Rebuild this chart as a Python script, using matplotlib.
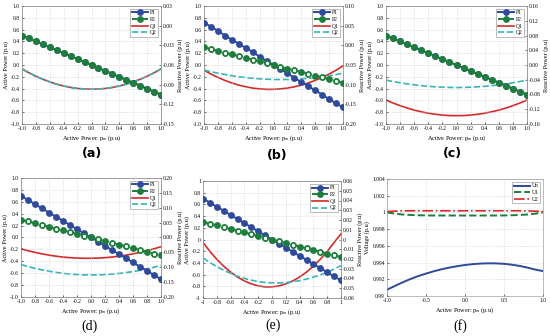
import matplotlib
matplotlib.use("Agg")
import matplotlib.pyplot as plt
from matplotlib.ticker import FormatStrFormatter

plt.rcParams['font.family'] = ['Liberation Serif', 'DejaVu Serif']
plt.rcParams['mathtext.fontset'] = 'stix'

# x axis: active power p_m (p.u)
x = [-1.0, -0.9, -0.8, -0.7, -0.6, -0.5, -0.4, -0.3, -0.2, -0.1, 0.0,
     0.1, 0.2, 0.3, 0.4, 0.5, 0.6, 0.7, 0.8, 0.9, 1.0]

# active power of the two converters
p_half = [0.50, 0.45, 0.40, 0.35, 0.30, 0.25, 0.20, 0.15, 0.10, 0.05, 0.00,
          -0.05, -0.10, -0.15, -0.20, -0.25, -0.30, -0.35, -0.40, -0.45, -0.50]
p1_b = [0.72, 0.65, 0.58, 0.50, 0.43, 0.36, 0.29, 0.22, 0.14, 0.07, 0.00,
        -0.07, -0.14, -0.22, -0.29, -0.36, -0.43, -0.50, -0.58, -0.65, -0.72]
p2_b = [0.30, 0.27, 0.24, 0.21, 0.18, 0.15, 0.12, 0.09, 0.06, 0.03, 0.00,
        -0.03, -0.06, -0.09, -0.12, -0.15, -0.18, -0.21, -0.24, -0.27, -0.30]
p1_d = [0.70, 0.63, 0.56, 0.49, 0.42, 0.35, 0.28, 0.21, 0.14, 0.07, 0.00,
        -0.07, -0.14, -0.21, -0.28, -0.35, -0.42, -0.49, -0.56, -0.63, -0.70]
p2_d = p2_b

# reactive power (right axis)
q_a = [-0.0660, -0.0719, -0.0772, -0.0818, -0.0858, -0.0893, -0.0920, -0.0942, -0.0958, -0.0967, -0.0970,
       -0.0967, -0.0958, -0.0942, -0.0920, -0.0893, -0.0858, -0.0818, -0.0772, -0.0719, -0.0660]
q1_b = [-0.0633, -0.0730, -0.0816, -0.0892, -0.0957, -0.1011, -0.1054, -0.1086, -0.1108, -0.1119, -0.1119,
        -0.1108, -0.1086, -0.1054, -0.1011, -0.0957, -0.0892, -0.0816, -0.0730, -0.0633, -0.0525]
q2_b = [-0.0628, -0.0670, -0.0708, -0.0742, -0.0772, -0.0798, -0.0820, -0.0838, -0.0852, -0.0862, -0.0868,
        -0.0870, -0.0868, -0.0862, -0.0852, -0.0838, -0.0820, -0.0798, -0.0772, -0.0742, -0.0708]
q1_c = [-0.0950, -0.1031, -0.1103, -0.1167, -0.1222, -0.1269, -0.1307, -0.1337, -0.1358, -0.1371, -0.1375,
        -0.1371, -0.1358, -0.1337, -0.1307, -0.1269, -0.1222, -0.1167, -0.1103, -0.1031, -0.0950]
q2_c = [-0.0410, -0.0448, -0.0482, -0.0512, -0.0538, -0.0560, -0.0578, -0.0592, -0.0602, -0.0608, -0.0610,
        -0.0608, -0.0602, -0.0592, -0.0578, -0.0560, -0.0538, -0.0512, -0.0482, -0.0448, -0.0410]
q1_d = [-0.0380, -0.0444, -0.0500, -0.0550, -0.0593, -0.0628, -0.0657, -0.0678, -0.0692, -0.0699, -0.0699,
        -0.0692, -0.0678, -0.0657, -0.0628, -0.0593, -0.0550, -0.0500, -0.0444, -0.0380, -0.0309]
q2_d = [-0.0910, -0.0977, -0.1036, -0.1089, -0.1134, -0.1172, -0.1204, -0.1228, -0.1246, -0.1257, -0.1260,
        -0.1257, -0.1247, -0.1231, -0.1209, -0.1180, -0.1145, -0.1103, -0.1055, -0.1001, -0.0940]
q1_e = [-0.0031, -0.0122, -0.0203, -0.0274, -0.0334, -0.0385, -0.0425, -0.0455, -0.0476, -0.0486, -0.0486,
        -0.0476, -0.0455, -0.0425, -0.0385, -0.0334, -0.0274, -0.0203, -0.0122, -0.0031, 0.0058]
q2_e = [-0.0189, -0.0236, -0.0278, -0.0315, -0.0348, -0.0376, -0.0399, -0.0417, -0.0431, -0.0441, -0.0445,
        -0.0446, -0.0442, -0.0434, -0.0422, -0.0406, -0.0386, -0.0363, -0.0335, -0.0304, -0.0268]

# voltages for panel (f)
u_n = [0.99075, 0.99120, 0.99163, 0.99203, 0.99238, 0.99268, 0.99296, 0.99320, 0.99340, 0.99357, 0.99371,
       0.99381, 0.99388, 0.99391, 0.99390, 0.99385, 0.99375, 0.99360, 0.99340, 0.99316, 0.99298]
u_1 = [1.00000, 0.99985, 0.99975, 0.99970, 0.99966, 0.99964, 0.99963, 0.99963, 0.99963, 0.99963, 0.99963,
       0.99963, 0.99963, 0.99963, 0.99963, 0.99964, 0.99966, 0.99970, 0.99975, 0.99985, 1.00000]
u_2 = [1.00010, 1.00015, 1.00018, 1.00020, 1.00020, 1.00020, 1.00020, 1.00020, 1.00020, 1.00020, 1.00020,
       1.00020, 1.00020, 1.00020, 1.00020, 1.00020, 1.00020, 1.00020, 1.00018, 1.00015, 1.00010]

blue = '#2f4a9c'
green = '#1e7d3c'
red = '#d42a2a'
cyan = '#35b5b5'
fs = 4

W, H = 550.0, 336.0
fig = plt.figure(figsize=(5.5, 3.36), dpi=100)


def box(left, right, top, bottom):
    return [left / W, 1 - bottom / H, (right - left) / W, (bottom - top) / H]


def style(ax):
    ax.tick_params(labelsize=fs, length=1.5, width=0.4, pad=1.5, direction='in')
    for s in ax.spines.values():
        s.set_linewidth(0.4)
        s.set_color('#888888')


def pq_panel(rect, p1, p2, q1, q2, qlim, qticks, hollow=False, gfmt=False):
    ax = fig.add_axes(rect)
    ax2 = ax.twinx()
    l1, = ax.plot(x, p1, '-o', color=blue, lw=1.4, ms=3.9, mfc=blue, mec=blue, zorder=3)
    l2, = ax.plot(x, p2, '--o', color=green, lw=1.4, ms=3.9, mfc=green, mec=green, zorder=4)
    if hollow:
        ax.plot(x[1::2], p2[1::2], 'o', ms=3.3, mfc='white', mec=green, mew=0.9, zorder=5)
    l3, = ax2.plot(x, q1, '-', color=red, lw=1.2)
    l4, = ax2.plot(x, q2, '--', color=cyan, lw=1.2)
    ax.set_xlim(-1, 1)
    ax.set_ylim(-1, 1)
    ax.set_xticks([-1.0, -0.8, -0.6, -0.4, -0.2, 0.0, 0.2, 0.4, 0.6, 0.8, 1.0])
    ax.set_yticks([-1.0, -0.8, -0.6, -0.4, -0.2, 0.0, 0.2, 0.4, 0.6, 0.8, 1.0])
    ax2.set_ylim(qlim)
    ax2.set_yticks(qticks)
    if gfmt:
        ax.xaxis.set_major_formatter(FormatStrFormatter('%g'))
        ax.yaxis.set_major_formatter(FormatStrFormatter('%g'))
        ax2.yaxis.set_major_formatter(FormatStrFormatter('%g'))
    else:
        ax.xaxis.set_major_formatter(FormatStrFormatter('%.1f'))
        ax.yaxis.set_major_formatter(FormatStrFormatter('%.1f'))
        ax2.yaxis.set_major_formatter(FormatStrFormatter('%.2f'))
    ax.grid(True, linestyle=':', color='#c8c8c8', lw=0.5)
    style(ax)
    style(ax2)
    ax.set_xlabel('Active Power: p$_m$ (p.u)', fontsize=fs + 0.5, labelpad=1.5)
    ax.set_ylabel('Active Power (p.u)', fontsize=fs + 0.5, labelpad=1.5)
    ax2.set_ylabel('Reactive Power (p.u)', fontsize=fs + 0.5, labelpad=1.5)
    leg = ax.legend([l1, l2, l3, l4], ['P1', 'P2', 'Q1', 'Q2'], loc='upper right',
                    fontsize=fs, handlelength=2.8, borderpad=0.3, labelspacing=0.3,
                    handletextpad=0.4, fancybox=False, framealpha=1)
    leg.get_frame().set_linewidth(0.4)
    leg.get_frame().set_edgecolor('#888888')
    ax.set_zorder(ax2.get_zorder() + 1)
    ax.patch.set_visible(False)
    return ax


pq_panel(box(22, 161, 6, 124), p_half, p_half, q_a, q_a, (-0.15, 0.03),
         [-0.15, -0.12, -0.09, -0.06, -0.03, 0.00, 0.03])
pq_panel(box(204, 343, 6, 124), p1_b, p2_b, q1_b, q2_b, (-0.20, 0.10),
         [-0.20, -0.15, -0.10, -0.05, 0.00, 0.05, 0.10], hollow=True)
pq_panel(box(386, 527, 6, 124), p_half, p_half, q1_c, q2_c, (-0.16, 0.16),
         [-0.16, -0.12, -0.08, -0.04, 0.00, 0.04, 0.08, 0.12, 0.16])
pq_panel(box(21, 161, 178, 297), p1_d, p2_d, q1_d, q2_d, (-0.20, 0.20),
         [-0.20, -0.15, -0.10, -0.05, 0.00, 0.05, 0.10, 0.15, 0.20], hollow=True)
pq_panel(box(203, 341, 181, 298), p1_d, p2_d, q1_e, q2_e, (-0.06, 0.06),
         [-0.06, -0.05, -0.04, -0.03, -0.02, -0.01, 0, 0.01, 0.02, 0.03, 0.04, 0.05, 0.06],
         hollow=True, gfmt=True)

# panel (f): voltages
axf = fig.add_axes(box(387, 543, 179, 296))
axf.plot(x, u_n, '-', color=blue, lw=1.4, label='Un')
axf.plot(x, u_1, '--', color=green, lw=1.4, label='U1')
axf.plot(x, u_2, '-.', color=red, lw=1.2, label='U2')
axf.set_xlim(-1, 1)
axf.set_ylim(0.99, 1.004)
axf.set_xticks([-1.0, -0.5, 0.0, 0.5, 1.0])
axf.xaxis.set_major_formatter(FormatStrFormatter('%.1f'))
axf.set_yticks([0.99, 0.992, 0.994, 0.996, 0.998, 1.0, 1.002, 1.004])
axf.yaxis.set_major_formatter(FormatStrFormatter('%g'))
axf.grid(True, linestyle=':', color='#c8c8c8', lw=0.5)
style(axf)
axf.set_xlabel('Active Power: p$_m$ (p.u)', fontsize=fs + 0.5, labelpad=1.5)
axf.set_ylabel('Voltage (p.u)', fontsize=fs + 0.5, labelpad=1.5)
leg = axf.legend(loc='upper right', fontsize=fs, handlelength=2.8, borderpad=0.3,
                 labelspacing=0.3, handletextpad=0.4, fancybox=False, framealpha=1)
leg.get_frame().set_linewidth(0.4)
leg.get_frame().set_edgecolor('#888888')

# panel letters
fig.text(92 / W, 1 - 154 / H, '(a)', fontsize=9, fontweight='bold', family='DejaVu Sans', ha='center', va='center')
fig.text(277 / W, 1 - 155 / H, '(b)', fontsize=9, fontweight='bold', family='DejaVu Sans', ha='center', va='center')
fig.text(452 / W, 1 - 154 / H, '(c)', fontsize=9, fontweight='bold', family='DejaVu Sans', ha='center', va='center')
fig.text(90 / W, 1 - 326 / H, '(d)', fontsize=10, ha='center', va='center')
fig.text(273 / W, 1 - 325 / H, '(e)', fontsize=10, ha='center', va='center')
fig.text(460 / W, 1 - 326 / H, '(f)', fontsize=10, ha='center', va='center')

fig.savefig('out.png', dpi=100)
